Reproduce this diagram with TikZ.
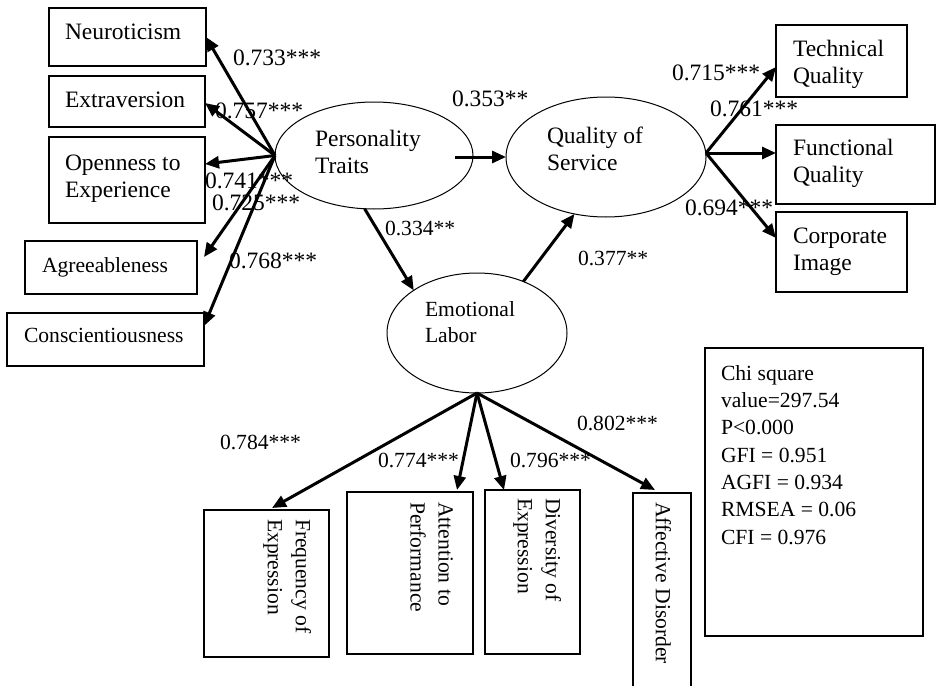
\documentclass[tikz,border=0pt]{standalone}
\usepackage{fontspec}
\setmainfont{Liberation Serif}
\usetikzlibrary{arrows.meta,shapes.geometric}
\begin{document}
\begin{tikzpicture}[x=1pt,y=-1pt,
  every node/.style={font=\fontsize{23.5}{27}\selectfont, inner sep=0pt, outer sep=0pt},
  small/.style={font=\fontsize{21.6}{26}\selectfont},
  box/.style={draw, line width=1.3pt, rectangle},
  lat/.style={draw, line width=1pt, ellipse},
  txt/.style={anchor=base west, align=left},
  rtxt/.style={anchor=north west, align=left, rotate=-90, font=\fontsize{21.6}{28}\selectfont},
  lab/.style={anchor=base west},
  arr/.style={line width=3pt, -{Triangle[length=14pt,width=12pt]}}
]
\useasboundingbox (0,0) rectangle (936,685);

% latent variables
\node[lat, minimum width=198pt, minimum height=107pt] (pt) at (374,155.5) {};
\node[lat, minimum width=200pt, minimum height=120pt] (qs) at (606,157) {};
\node[lat, minimum width=180pt, minimum height=120pt] (el) at (477,333) {};
\node[txt] (ptt) at (315,173) {Personality\\Traits};
\node[txt] (qst) at (547,170) {Quality of\\Service};
\node[txt, small] (elt) at (425,342) {Emotional\\Labor};

% personality indicators
\node[box, minimum width=157pt, minimum height=58pt] (ne) at (127.5,37) {};
\node[box, minimum width=156pt, minimum height=51pt] (ex) at (127,101.5) {};
\node[box, minimum width=156pt, minimum height=86pt] (op) at (127,180) {};
\node[box, minimum width=172pt, minimum height=53pt] (ag) at (111,267.5) {};
\node[box, minimum width=197pt, minimum height=53pt] (cs) at (105.5,339.5) {};
\node[txt] (net) at (65,40) {Neuroticism};
\node[txt] (ext) at (65,107) {Extraversion};
\node[txt] (opt) at (65,197) {Openness to\\Experience};
\node[txt, small] (agt) at (42,272) {Agreeableness};
\node[txt, small] (cst) at (24,342) {Conscientiousness};

% service indicators
\node[box, minimum width=131pt, minimum height=72pt] (te) at (841.5,61) {};
\node[box, minimum width=159pt, minimum height=79pt] (fu) at (855.5,164.5) {};
\node[box, minimum width=131pt, minimum height=80pt] (cp) at (841.5,252) {};
\node[txt] (tet) at (793,83) {Technical\\Quality};
\node[txt] (fut) at (793,182) {Functional\\Quality};
\node[txt] (cpt) at (793,270) {Corporate\\Image};

% emotional labor indicators
\node[box, minimum width=125pt, minimum height=147pt] (fr) at (266.5,583.5) {};
\node[box, minimum width=126pt, minimum height=162pt] (at) at (410,573) {};
\node[box, minimum width=95pt, minimum height=164pt] (dv) at (532.5,572) {};
\node[box, minimum width=58pt, minimum height=197pt] (af) at (662,591.5) {};
\node[rtxt] (frt) at (311,519) {Frequency of\\Expression};
\node[rtxt] (att) at (453,502) {Attention to\\Performance};
\node[rtxt] (dvt) at (561,498) {Diversity of\\Expression};
\node[rtxt] (aft) at (671,502) {Affective Disorder};

% fit box
\node[box, minimum width=218pt, minimum height=288pt] (fit) at (814,492) {};
\node[txt, font=\fontsize{21.6}{27.3}\selectfont] (fitt) at (721,544)
  {Chi square\\value=297.54\\P<0.000\\GFI = 0.951\\AGFI = 0.934\\RMSEA = 0.06\\CFI = 0.976};

% coefficient labels
\node[lab] (l1) at (233,65) {0.733***};
\node[lab] (l2) at (215,118) {0.757***};
\node[lab] (l3) at (205,188) {0.741***};
\node[lab] (l4) at (212,210) {0.725***};
\node[lab] (l5) at (229,268) {0.768***};
\node[lab] (l6) at (452,106) {0.353**};
\node[lab, small] (l7) at (385,235) {0.334**};
\node[lab, small] (l8) at (578,265) {0.377**};
\node[lab] (l9) at (672,80) {0.715***};
\node[lab] (l10) at (710,116) {0.761***};
\node[lab] (l11) at (685,215) {0.694***};
\node[lab, small] (l12) at (220,449) {0.784***};
\node[lab, small] (l13) at (378,467) {0.774***};
\node[lab, small] (l14) at (510,467) {0.796***};
\node[lab, small] (l15) at (577,430) {0.802***};

% arrows
\draw[arr] (pt.west) -- (ne.east);
\draw[arr] (pt.west) -- ([yshift=-1.5pt]ex.east);
\draw[arr] (pt.west) -- ([yshift=16pt]op.east);
\draw[arr] (pt.west) -- ([xshift=7pt,yshift=10.5pt]ag.east);
\draw[arr] (pt.west) -- ([yshift=13.5pt]cs.east);

\draw[arr] ([xshift=-18pt,yshift=-1.5pt]pt.east) -- (qs.west);
\draw[arr] (pt.260) -- (el.146);
\draw[arr] (el.48) -- (qs.241);

\coordinate (qso) at ([yshift=4pt]qs.east);
\draw[arr] (qso) -- ([yshift=-6pt]te.west);
\draw[arr] (qso) -- ([yshift=11.5pt]fu.west);
\draw[arr] (qso) -- ([yshift=14pt]cp.west);

\draw[arr] (el.south) -- ([xshift=5.5pt,yshift=2pt]fr.north);
\draw[arr] (el.south) -- ([xshift=47pt,yshift=2pt]at.north);
\draw[arr] (el.south) -- ([xshift=-28.5pt]dv.north);
\draw[arr] (el.south) -- ([xshift=-7pt,yshift=3pt]af.north);
\end{tikzpicture}
\end{document}
